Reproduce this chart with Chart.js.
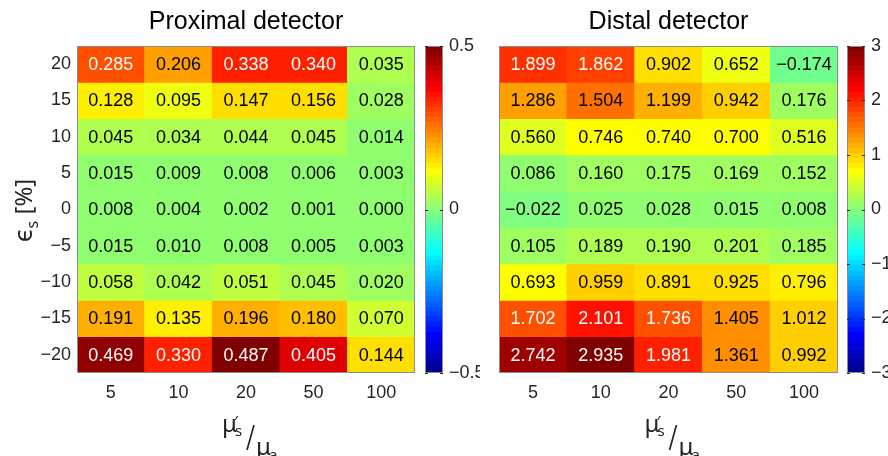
<!DOCTYPE html>
<html lang="en">
<head>
<meta charset="UTF-8">
<title>Proximal / distal detector</title>
<script src="https://cdn.jsdelivr.net/npm/chart.js"></script>
<style>
  html, body { margin: 0; padding: 0; background: #fff; }
  #wrap { position: relative; width: 888px; height: 456px; overflow: hidden; }
  #wrap > div { position: absolute; top: 0; height: 456px; }
</style>
</head>
<body>
<div id="wrap">
  <div style="left:0;width:430px"><canvas id="prox"></canvas></div>
  <div style="left:420px;width:60px"><canvas id="proxBar"></canvas></div>
  <div style="left:430px;width:420px"><canvas id="dist"></canvas></div>
  <div style="left:842px;width:46px"><canvas id="distBar"></canvas></div>
</div>

<script>
// columns: mu_s'/mu_a, rows: eps_s [%]
const ratioLabels = ['5', '10', '20', '50', '100'];
const epsRows = [20, 15, 10, 5, 0, -5, -10, -15, -20];

const proximal = [
  [0.285, 0.206, 0.338, 0.340, 0.035],
  [0.128, 0.095, 0.147, 0.156, 0.028],
  [0.045, 0.034, 0.044, 0.045, 0.014],
  [0.015, 0.009, 0.008, 0.006, 0.003],
  [0.008, 0.004, 0.002, 0.001, 0.000],
  [0.015, 0.010, 0.008, 0.005, 0.003],
  [0.058, 0.042, 0.051, 0.045, 0.020],
  [0.191, 0.135, 0.196, 0.180, 0.070],
  [0.469, 0.330, 0.487, 0.405, 0.144]
];
const distal = [
  [1.899, 1.862, 0.902, 0.652, -0.174],
  [1.286, 1.504, 1.199, 0.942, 0.176],
  [0.560, 0.746, 0.740, 0.700, 0.516],
  [0.086, 0.160, 0.175, 0.169, 0.152],
  [-0.022, 0.025, 0.028, 0.015, 0.008],
  [0.105, 0.189, 0.190, 0.201, 0.185],
  [0.693, 0.959, 0.891, 0.925, 0.796],
  [1.702, 2.101, 1.736, 1.405, 1.012],
  [2.742, 2.935, 1.981, 1.361, 0.992]
];

const proxTicks = [-0.5, 0, 0.5];
const distTicks = [-3, -2, -1, 0, 1, 2, 3];

const TXT = '#262626';
const NUMFONT = '"Liberation Sans", Arial, sans-serif';
const SYMFONT = '"Noto Sans", "DejaVu Sans", sans-serif';

// matlab jet(64)
function jetMap(m) {
  const n = Math.ceil(m / 4);
  const u = [];
  for (let i = 1; i <= n; i++) u.push(i / n);
  for (let i = 1; i < n; i++) u.push(1);
  for (let i = n; i >= 1; i--) u.push(i / n);
  const off = Math.ceil(n / 2) - (m % 4 === 1 ? 1 : 0);
  const J = Array.from({ length: m }, () => [0, 0, 0]);
  u.forEach((v, i) => {
    const g = off + i + 1, r = g + n, b = g - n;
    if (r >= 1 && r <= m) J[r - 1][0] = v;
    if (g >= 1 && g <= m) J[g - 1][1] = v;
    if (b >= 1 && b <= m) J[b - 1][2] = v;
  });
  return J;
}
const jet = jetMap(64);
const rgb = c => `rgb(${Math.round(c[0] * 255)},${Math.round(c[1] * 255)},${Math.round(c[2] * 255)})`;
const cIndex = (v, lo, hi) => Math.min(63, Math.max(0, Math.floor((v - lo) / (hi - lo) * 64)));
const minus = s => String(s).replace('-', '\u2212');

const cellText = {
  id: 'cellText',
  afterDatasetsDraw(chart, args, o) {
    const ctx = chart.ctx;
    ctx.save();
    ctx.font = '18px ' + NUMFONT;
    ctx.textAlign = 'center';
    ctx.textBaseline = 'middle';
    chart.data.datasets.forEach((ds, i) => {
      chart.getDatasetMeta(i).data.forEach((bar, j) => {
        const v = o.values[i][j];
        ctx.fillStyle = cIndex(v, o.lo, o.hi) >= 49 ? '#fff' : '#000';
        ctx.fillText(minus(v.toFixed(3)), bar.x, (bar.y + bar.base) / 2 + 1);
      });
    });
    ctx.restore();
  }
};

const frame = {
  id: 'frame',
  afterDraw(chart, args, o) {
    const a = chart.chartArea, ctx = chart.ctx;
    ctx.save();
    ctx.strokeStyle = '#8c8c8c';
    ctx.lineWidth = 1;
    ctx.strokeRect(Math.round(a.left) + 0.5, Math.round(a.top) + 0.5,
      Math.round(a.right - a.left) - 1, Math.round(a.bottom - a.top) - 1);
    if (o.marks) {
      const y = chart.scales.y;
      ctx.strokeStyle = TXT;
      y.ticks.forEach(t => {
        const p = Math.round(y.getPixelForValue(t.value)) + 0.5;
        ctx.beginPath();
        ctx.moveTo(a.left, p); ctx.lineTo(a.left + 3, p);
        ctx.moveTo(a.right, p); ctx.lineTo(a.right - 3, p);
        ctx.stroke();
      });
    }
    ctx.restore();
  }
};

const axisTitles = {
  id: 'axisTitles',
  afterDraw(chart, args, o) {
    const a = chart.chartArea, ctx = chart.ctx;
    const cx = (a.left + a.right) / 2;
    ctx.save();
    ctx.fillStyle = TXT;
    ctx.strokeStyle = TXT;
    ctx.textAlign = 'left';
    ctx.textBaseline = 'alphabetic';
    // mu_s' / mu_a
    ctx.font = '24px ' + SYMFONT;
    ctx.fillText('μ', cx - 24, 432);
    ctx.font = '17px ' + SYMFONT;
    ctx.fillText('′', cx - 12, 428);
    ctx.font = '15px ' + SYMFONT;
    ctx.fillText('s', cx - 11, 436);
    ctx.lineWidth = 1.7;
    ctx.beginPath();
    ctx.moveTo(cx + 1, 450);
    ctx.lineTo(cx + 8, 425);
    ctx.stroke();
    ctx.font = '24px ' + SYMFONT;
    ctx.fillText('μ', cx + 10, 455);
    ctx.font = '15px ' + SYMFONT;
    ctx.fillText('a', cx + 23, 460);
    if (o.yTitle) {
      ctx.translate(32, (a.top + a.bottom) / 2 + 1);
      ctx.rotate(-Math.PI / 2);
      const eps = '26px ' + SYMFONT, big = '24px ' + SYMFONT, small = '16px ' + SYMFONT;
      ctx.font = eps; const wE = ctx.measureText('ϵ').width;
      ctx.font = small; const wS = ctx.measureText('s').width;
      ctx.font = big; const wB = ctx.measureText(' [%]').width;
      let x = -(wE + wS + wB + 1) / 2;
      ctx.font = eps; ctx.fillText('ϵ', x, 0); x += wE + 1;
      ctx.font = small; ctx.fillText('s', x, 6); x += wS;
      ctx.font = big; ctx.fillText(' [%]', x, 0);
    }
    ctx.restore();
  }
};

function heatmap(id, title, values, lo, hi, yWidth, rightPad, showY) {
  const datasets = epsRows.map((r, i) => ({
    data: values[i].map(() => [r - 2.5, r + 2.5]),
    backgroundColor: values[i].map(v => rgb(jet[cIndex(v, lo, hi)])),
    borderWidth: 0,
    grouped: false,
    barPercentage: 1,
    categoryPercentage: 1
  }));
  return new Chart(document.getElementById(id), {
    type: 'bar',
    data: { labels: ratioLabels, datasets },
    plugins: [cellText, frame, axisTitles],
    options: {
      responsive: true,
      maintainAspectRatio: false,
      animation: false,
      layout: { padding: { top: 0, left: 0, right: rightPad, bottom: 43 } },
      plugins: {
        legend: { display: false },
        tooltip: { enabled: false },
        title: {
          display: true, text: title, fullSize: false, color: '#000',
          font: { family: NUMFONT, size: 25, weight: 'normal' },
          padding: { top: 7, bottom: 9 }
        },
        cellText: { values, lo, hi },
        frame: { marks: false },
        axisTitles: { yTitle: showY }
      },
      scales: {
        x: {
          grid: { display: false, drawTicks: false },
          border: { display: false },
          ticks: { color: TXT, font: { family: NUMFONT, size: 18 }, padding: 9 },
          afterFit(s) { s.height = 40; }
        },
        y: {
          type: 'linear', min: -22.5, max: 22.5,
          grid: { display: false, drawTicks: false },
          border: { display: false },
          afterBuildTicks(s) { s.ticks = epsRows.map(v => ({ value: v })); },
          ticks: {
            display: showY, color: TXT, padding: 6,
            font: { family: NUMFONT, size: 18 },
            callback: v => minus(v)
          },
          afterFit(s) { s.width = yWidth; }
        }
      }
    }
  });
}

function colorbar(id, lo, hi, ticks, yWidth) {
  const step = (hi - lo) / 64;
  const datasets = jet.map((c, k) => ({
    data: [[lo + k * step, lo + (k + 1) * step]],
    backgroundColor: rgb(c),
    borderWidth: 0,
    grouped: false,
    barPercentage: 1,
    categoryPercentage: 1
  }));
  return new Chart(document.getElementById(id), {
    type: 'bar',
    data: { labels: [''], datasets },
    plugins: [frame],
    options: {
      responsive: true,
      maintainAspectRatio: false,
      animation: false,
      layout: { padding: { top: 46, left: 5, right: 0, bottom: 83 } },
      plugins: {
        legend: { display: false },
        tooltip: { enabled: false },
        frame: { marks: true }
      },
      scales: {
        x: { display: false },
        y: {
          position: 'right', min: lo, max: hi,
          grid: { display: false, drawTicks: false },
          border: { display: false },
          afterBuildTicks(s) { s.ticks = ticks.map(v => ({ value: v })); },
          ticks: {
            color: TXT, padding: 6,
            font: { family: NUMFONT, size: 18 },
            callback: v => minus(v)
          },
          afterFit(s) { s.width = yWidth; }
        }
      }
    }
  });
}

heatmap('prox', 'Proximal detector', proximal, -0.5, 0.5, 77, 15, true);
colorbar('proxBar', -0.5, 0.5, proxTicks, 37);
heatmap('dist', 'Distal detector', distal, -3, 3, 69, 12, false);
colorbar('distBar', -3, 3, distTicks, 23);
</script>
</body>
</html>
